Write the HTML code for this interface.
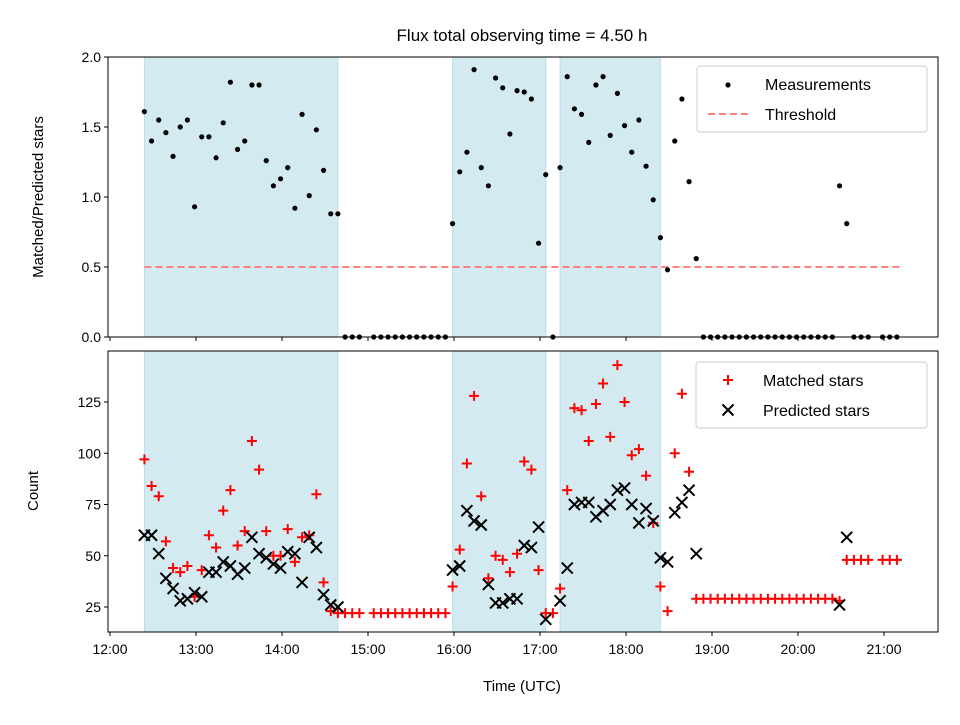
<!DOCTYPE html>
<html><head><meta charset="utf-8"><style>
body{margin:0;background:#fff;}
svg text{font-family:"Liberation Sans","DejaVu Sans",sans-serif;fill:#000;}
</style></head><body>
<svg id="chart" width="960" height="720" xmlns="http://www.w3.org/2000/svg"></svg>
<script>
const times=[24,29,34,39,44,49,54,59,64,69,74,79,84,89,94,99,104,109,114,119,124,129,134,139,144,149,154,159,164,169,174,
184,189,194,199,204,209,214,219,224,229,234,
239,244,249,254,259,264,269,274,279,284,289,294,299,304,309,314,319,324,329,334,339,344,349,354,359,364,369,374,379,384,
389,394,399,404,409,414,419,424,429,434,439,444,449,454,459,464,469,474,479,484,489,494,499,504,509,514,519,524,529,539,544,549];
const ratio=[1.61,1.40,1.55,1.46,1.29,1.50,1.55,0.93,1.43,1.43,1.28,1.53,1.82,1.34,1.40,1.80,1.80,1.26,1.08,1.13,1.21,0.92,1.59,1.01,1.48,1.19,0.88,0.88,0,0,0,
0,0,0,0,0,0,0,0,0,0,0,
0.81,1.18,1.32,1.91,1.21,1.08,1.85,1.78,1.45,1.76,1.75,1.70,0.67,1.16,0,1.21,1.86,1.63,1.59,1.39,1.80,1.86,1.44,1.74,1.51,1.32,1.55,1.22,0.98,0.71,
0.48,1.40,1.70,1.11,0.56,0,0,0,0,0,0,0,0,0,0,0,0,0,0,0,0,0,0,0,1.08,0.81,0,0,0,0,0,0];
const matched=[97,84,79,57,44,42,45,30,43,60,54,72,82,55,62,106,92,62,50,50,63,47,59,60,80,37,23,22,22,22,22,
22,22,22,22,22,22,22,22,22,22,22,
35,53,95,128,79,39,50,48,42,51,96,92,43,22,22,34,82,122,121,106,124,134,108,143,125,99,102,89,66,35,
23,100,129,91,29,29,29,29,29,29,29,29,29,29,29,29,29,29,29,29,29,29,29,29,28,48,48,48,48,48,48,48];
const predicted=[60,60,51,39,34,28,29,32,30,42,42,47,45,41,44,59,51,49,46,44,52,51,37,59,54,31,26,25,null,null,null,
null,null,null,null,null,null,null,null,null,null,null,
43,45,72,67,65,36,27,27,29,29,55,54,64,19,null,28,44,75,76,76,69,72,75,82,83,75,66,73,67,49,
47,71,76,82,51,null,null,null,null,null,null,null,null,null,null,null,null,null,null,null,null,null,null,null,26,59,null,null,null,null,null,null];
const spanStart=[24,239,314];
const spanEnd=[159,304,384];
const threshold=0.5;
const xTickVals=[0,60,120,180,240,300,360,420,480,540];
const xTickLabels=["12:00","13:00","14:00","15:00","16:00","17:00","18:00","19:00","20:00","21:00"];
const topTicks=[0,0.5,1.0,1.5,2.0];
const botTicks=[25,50,75,100,125];

const NS="http://www.w3.org/2000/svg";
const svg=document.getElementById('chart');
function el(tag,attrs,parent){const e=document.createElementNS(NS,tag);for(const k in attrs)e.setAttribute(k,attrs[k]);(parent||svg).appendChild(e);return e;}
const L=108,R=938;
const xs=t=>110+t*86/60;
const T={top:57,bot:337},B={top:351,bot:632};
const yTop=v=>337-v*140;
const yBot=v=>607-(v-25)*2.05;

// title
let t=el('text',{x:522,y:41,'text-anchor':'middle','font-size':17});
t.textContent='Flux total observing time = 4.50 h';



function panel(P,name){
  const g=el('g',{});
  
  
  for(let i=0;i<spanStart.length;i++){
    const r=el('rect',{x:xs(spanStart[i]),y:P.top,width:xs(spanEnd[i])-xs(spanStart[i]),height:P.bot-P.top,fill:'#d4eaf1',stroke:'#bfdde8','stroke-width':1},g);
    
    
  }
  return g;
}
const gTop=panel(T,'top-panel');
const gBot=panel(B,'bottom-panel');

// threshold
const th=el('line',{x1:xs(times[0]),x2:xs(times[times.length-1])+4,y1:yTop(threshold),y2:yTop(threshold),stroke:'#ff7f7f','stroke-width':2,'stroke-dasharray':'7,4'},gTop);



// measurements
for(let i=0;i<times.length;i++){
  const c=el('circle',{cx:xs(times[i]),cy:yTop(ratio[i]),r:2.6,fill:'#000'},gTop);
  
  
}
// matched & predicted
for(let i=0;i<times.length;i++){
  const x=xs(times[i]),y=yBot(matched[i]);
  const p=el('path',{d:`M${x-5},${y}H${x+5}M${x},${y-5}V${y+5}`,stroke:'#f00','stroke-width':2},gBot);
  
  
}
for(let i=0;i<times.length;i++){
  if(predicted[i]===null)continue;
  const x=xs(times[i]),y=yBot(predicted[i]);
  const p=el('path',{d:`M${x-5.5},${y-5.5}L${x+5.5},${y+5.5}M${x-5.5},${y+5.5}L${x+5.5},${y-5.5}`,stroke:'#000','stroke-width':2},gBot);
  
  
}

// frames & ticks
[T,B].forEach((P,pi)=>{
  const f=el('rect',{x:L,y:P.top,width:R-L,height:P.bot-P.top,fill:'none',stroke:'#000','stroke-width':1});
  
  
  xTickVals.forEach((v,i)=>{
    const x=xs(v);
    el('line',{x1:x,x2:x,y1:P.bot,y2:P.bot+4,stroke:'#000'});
    if(pi===1){
      const tx=el('text',{x:x,y:P.bot+22,'text-anchor':'middle','font-size':14});
      tx.textContent=xTickLabels[i];
      
      
    }
  });
});
topTicks.forEach(v=>{
  const y=yTop(v);
  el('line',{x1:L-4,x2:L,y1:y,y2:y,stroke:'#000'});
  const tx=el('text',{x:L-7,y:y+5,'text-anchor':'end','font-size':14});
  tx.textContent=v.toFixed(1);
  
  
});
botTicks.forEach(v=>{
  const y=yBot(v);
  el('line',{x1:L-4,x2:L,y1:y,y2:y,stroke:'#000'});
  const tx=el('text',{x:L-7,y:y+5,'text-anchor':'end','font-size':14});
  tx.textContent=v;
  
  
});
let yl=el('text',{x:0,y:0,transform:'translate(43,197) rotate(-90)','text-anchor':'middle','font-size':15});
yl.textContent='Matched/Predicted stars';


yl=el('text',{x:0,y:0,transform:'translate(38,491) rotate(-90)','text-anchor':'middle','font-size':15});
yl.textContent='Count';


let xl=el('text',{x:522,y:691,'text-anchor':'middle','font-size':15});
xl.textContent='Time (UTC)';



// legends
let lg=el('g',{});


el('rect',{x:697,y:66,width:230,height:66,rx:3,fill:'#fff','fill-opacity':0.8,stroke:'#ccc'},lg);
el('circle',{cx:728,cy:85,r:2.6,fill:'#000'},lg);
let lt=el('text',{x:765,y:90,'font-size':16},lg);lt.textContent='Measurements';


el('line',{x1:708,x2:748,y1:114,y2:114,stroke:'#ff7f7f','stroke-width':2,'stroke-dasharray':'7,4'},lg);
lt=el('text',{x:765,y:120,'font-size':16},lg);lt.textContent='Threshold';



lg=el('g',{});


el('rect',{x:696,y:362,width:231,height:66,rx:3,fill:'#fff','fill-opacity':0.8,stroke:'#ccc'},lg);
el('path',{d:'M723,380H733M728,375V385',stroke:'#f00','stroke-width':2},lg);
lt=el('text',{x:763,y:386,'font-size':16},lg);lt.textContent='Matched stars';


el('path',{d:'M722.5,404.5L733.5,415.5M722.5,415.5L733.5,404.5',stroke:'#000','stroke-width':2},lg);
lt=el('text',{x:763,y:416,'font-size':16},lg);lt.textContent='Predicted stars';


</script>
</body></html>
